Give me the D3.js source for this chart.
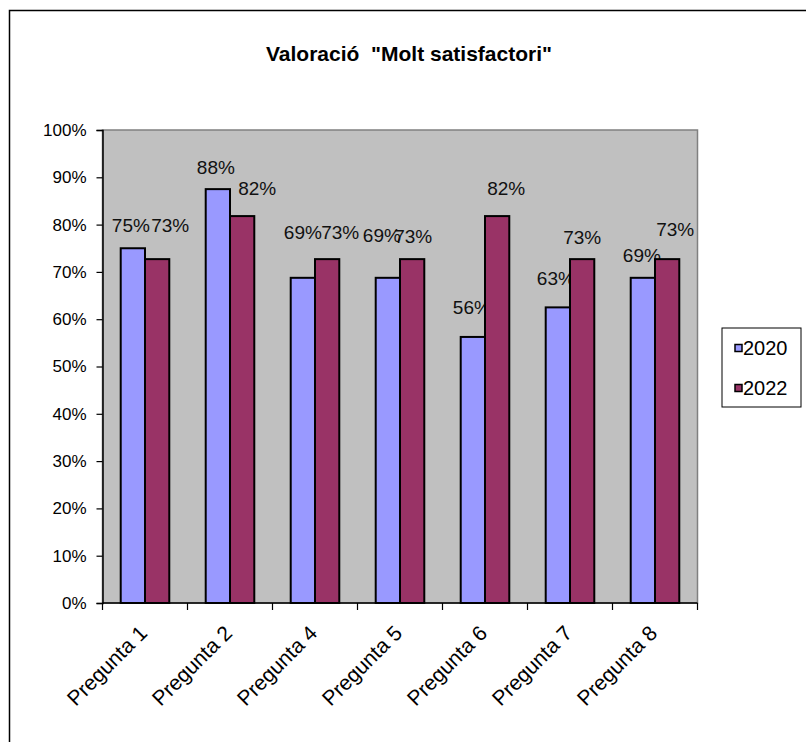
<!DOCTYPE html>
<html>
<head>
<meta charset="utf-8">
<script src="https://cdn.jsdelivr.net/npm/d3@7"></script>
<style>
  html, body { margin: 0; padding: 0; background: #fff; }
  svg { display: block; font-family: "Liberation Sans", Arial, sans-serif; }
</style>
</head>
<body>
<svg id="chart" width="806" height="742"></svg>
<script>
// Share of "Molt satisfactori" answers per question
const categories = ["Pregunta 1", "Pregunta 2", "Pregunta 4", "Pregunta 5", "Pregunta 6", "Pregunta 7", "Pregunta 8"];
const seriesNames = ["2020", "2022"];
const values2020 = [0.75, 0.875, 0.6875, 0.6875, 0.5625, 0.625, 0.6875];
const values2022 = [0.727, 0.818, 0.727, 0.727, 0.818, 0.727, 0.727];
const yTicks = [0, 0.1, 0.2, 0.3, 0.4, 0.5, 0.6, 0.7, 0.8, 0.9, 1.0];
const chartTitle = "Valoració  \"Molt satisfactori\"";

// hand-placed data label nudges (px), one per bar
const nudge2020 = [[-2, 0], [-2, 1], [0, -23], [-6, -20], [-1, -7], [-2, -6], [-1, 0]];
const nudge2022 = [[13, -11], [15, -5], [13, -4], [1, 0], [9, -5], [0, 1], [8, -7]];

const colors = { "2020": "#9999FF", "2022": "#993366" };

const svg = d3.select("#chart");
const plot = { left: 102.5, right: 697.5, top: 130, bottom: 603 };

// outer chart frame
svg.append("rect")
  .attr("x", 9.5).attr("y", 10.5)
  .attr("width", 820).attr("height", 760)
  .attr("fill", "#fff").attr("stroke", "#000").attr("stroke-width", 1.5);

// title
svg.append("text")
  .attr("x", 409).attr("y", 61)
  .attr("text-anchor", "middle")
  .attr("font-size", 21).attr("font-weight", "bold")
  .style("white-space", "pre")
  .text(chartTitle);

const x = d3.scaleBand().domain(categories).range([plot.left, plot.right]);
// Excel-style gap width of 150%: two bars + 1.5 bar of gap per category
const barW = x.bandwidth() / 3.5;
const xs = d3.scaleBand().domain(seriesNames).range([0.75 * barW, 2.75 * barW]);
const y = d3.scaleLinear().domain([0, 1]).range([plot.bottom, plot.top]);

// plot area
svg.append("rect")
  .attr("x", plot.left).attr("y", plot.top)
  .attr("width", plot.right - plot.left).attr("height", plot.bottom - plot.top)
  .attr("fill", "#C0C0C0").attr("stroke", "#808080").attr("stroke-width", 1.5);

// y axis
const yAxis = svg.append("g")
  .attr("transform", `translate(${plot.left},0)`)
  .call(d3.axisLeft(y).tickValues(yTicks).tickFormat(d3.format(".0%")).tickSize(6).tickPadding(10));
yAxis.select(".domain").attr("stroke", "#000").attr("stroke-width", 1.5);
yAxis.selectAll(".tick line").attr("stroke", "#000").attr("stroke-width", 1.2);
yAxis.selectAll("text").attr("font-size", 17).attr("fill", "#000")
  .attr("font-family", "Liberation Sans, Arial, sans-serif");

// x axis with ticks at category boundaries
const xAxisG = svg.append("g").attr("transform", `translate(0,${plot.bottom})`);
xAxisG.append("line")
  .attr("x1", plot.left).attr("x2", plot.right)
  .attr("stroke", "#000").attr("stroke-width", 1.5);
const boundaries = categories.map(c => x(c)).concat([x(categories[categories.length - 1]) + x.bandwidth()]);
xAxisG.selectAll("line.tick").data(boundaries).join("line")
  .attr("class", "tick")
  .attr("x1", d => d).attr("x2", d => d)
  .attr("y1", 0).attr("y2", 7)
  .attr("stroke", "#000").attr("stroke-width", 1.2);
xAxisG.selectAll("text").data(categories).join("text")
  .attr("transform", d => `translate(${x(d) + x.bandwidth() / 2 - 7},${21}) rotate(-45)`)
  .attr("text-anchor", "end")
  .attr("dy", "0.7em")
  .attr("font-size", 21)
  .text(d => d);

// bars
const series = [
  { name: "2020", values: values2020, nudge: nudge2020 },
  { name: "2022", values: values2022, nudge: nudge2022 }
];
series.forEach(s => {
  const g = svg.append("g");
  g.selectAll("rect").data(s.values).join("rect")
    .attr("x", (d, i) => x(categories[i]) + xs(s.name))
    .attr("y", d => y(d))
    .attr("width", xs.bandwidth())
    .attr("height", d => plot.bottom - y(d))
    .attr("fill", colors[s.name])
    .attr("stroke", "#000").attr("stroke-width", 2);
  g.selectAll("text").data(s.values).join("text")
    .attr("x", (d, i) => x(categories[i]) + xs(s.name) + xs.bandwidth() / 2 + s.nudge[i][0])
    .attr("y", (d, i) => y(d) - 23 + s.nudge[i][1])
    .attr("dy", "0.36em")
    .attr("text-anchor", "middle")
    .attr("font-size", 19)
    .attr("fill", "#111")
    .text(d => d3.format(".0%")(d));
});

// legend
const legend = svg.append("g");
legend.append("rect")
  .attr("x", 722).attr("y", 328).attr("width", 79).attr("height", 79)
  .attr("fill", "#fff").attr("stroke", "#000").attr("stroke-width", 1);
seriesNames.forEach((name, i) => {
  const cy = 348 + i * 40;
  legend.append("rect")
    .attr("x", 735).attr("y", cy - 3.5).attr("width", 7).attr("height", 7)
    .attr("fill", colors[name]).attr("stroke", "#000").attr("stroke-width", 1.5);
  legend.append("text")
    .attr("x", 743).attr("y", cy).attr("dy", "0.36em")
    .attr("font-size", 20)
    .text(name);
});
</script>
</body>
</html>
